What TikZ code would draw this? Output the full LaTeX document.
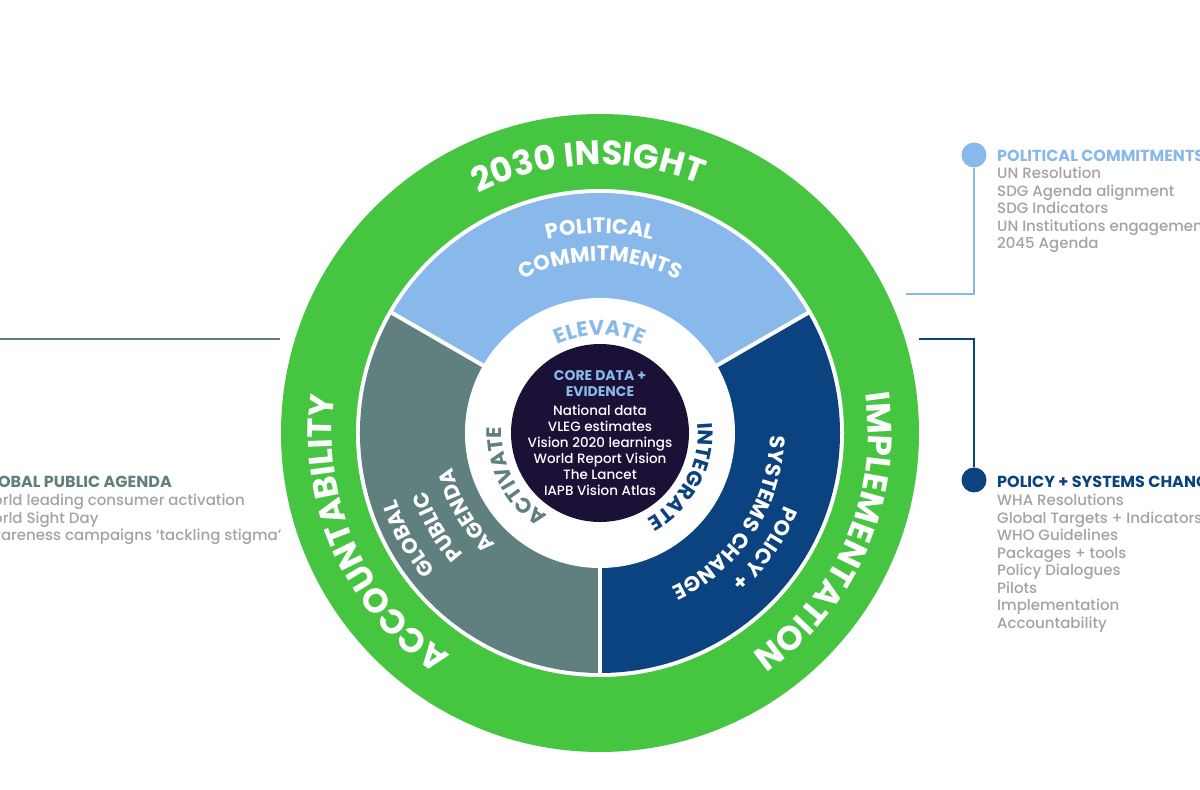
\documentclass[tikz,border=0pt]{standalone}
\usepackage{fontspec}
\setmainfont{Poppins}[UprightFont={* Medium},BoldFont={* Bold}]
\usetikzlibrary{decorations.text}
\definecolor{ringgreen}{HTML}{46C541}
\definecolor{commitblue}{HTML}{89B9EA}
\definecolor{agendagray}{HTML}{607F7F}
\definecolor{policyblue}{HTML}{0B4280}
\definecolor{coreblue}{HTML}{1B1136}
\definecolor{listgray}{HTML}{A3A3A3}
\begin{document}
\begin{tikzpicture}[x=1pt,y=1pt,
    ringtext/.style={decorate,decoration={text along path,text align=center,
        text={|\fontsize{34}{34}\selectfont\bfseries\color{white}|#1}}},
    segtext/.style={decorate,decoration={text along path,text align=center,
        text={|\fontsize{21}{21}\selectfont\bfseries\color{white}|#1}}},
    hubtext/.style 2 args={decorate,decoration={text along path,text align=center,
        text={|\fontsize{21}{21}\selectfont\bfseries\color{#1}|#2}}},
    listhead/.style={anchor=base west,inner sep=0,font=\bfseries\fontsize{16}{16}\selectfont},
    listitem/.style={anchor=base west,inner sep=0,text=listgray,font=\fontsize{15}{15}\selectfont},
    dot/.style={circle,inner sep=0,minimum size=25}]
    \useasboundingbox (0,0) rectangle (1200,790);
    \clip (0,0) rectangle (1200,790);
    \fill[white] (0,0) rectangle (1200,790);

    % the wheel
    \begin{scope}[shift={(600,357)}]
        \coordinate (hub) at (0,0);
        \fill[ringgreen] (hub) circle (319);
        \fill[white] (hub) circle (244);
        \fill[commitblue] (hub) -- (30:240) arc[start angle=30,end angle=150,radius=240] -- cycle;
        \fill[agendagray] (hub) -- (150:240) arc[start angle=150,end angle=270,radius=240] -- cycle;
        \fill[policyblue] (hub) -- (270:240) arc[start angle=270,end angle=390,radius=240] -- cycle;
        \foreach \a in {30,150,270}
            \draw[white,line width=4] (hub) -- (\a:242);
        \fill[white] (hub) circle (135);
        \node[circle,fill=coreblue,minimum size=178,inner sep=0] (core) at (hub) {};
        \node[align=center,text=white,font=\fontsize{13.5}{16}\selectfont] (coretext) at (hub)
            {{\bfseries\fontsize{14}{14.5}\selectfont\color{commitblue}CORE DATA +}\\
             {\bfseries\fontsize{14}{14.5}\selectfont\color{commitblue}EVIDENCE}\\[3pt]
             National data\\VLEG estimates\\Vision 2020 learnings\\World Report Vision\\The Lancet\\IAPB Vision Atlas};

        % outer ring
        \path[ringtext={2030 INSIGHT}] (172.5:268) arc[start angle=172.5,end angle=12.5,radius=268];
        \path[ringtext={ACCOUNTABILITY}] (294:268) arc[start angle=294,end angle=114,radius=268];
        \path[ringtext={IMPLEMENTATION}] (66.5:268) arc[start angle=66.5,end angle=-113.5,radius=268];

        % segments
        \path[segtext={POLITICAL}] (170:200) arc[start angle=170,end angle=10,radius=200];
        \path[segtext={COMMITMENTS}] (170:172) arc[start angle=170,end angle=10,radius=172];
        \path[segtext={GLOBAL}] (269:214) arc[start angle=269,end angle=149,radius=214];
        \path[segtext={PUBLIC}] (270:183) arc[start angle=270,end angle=150,radius=183];
        \path[segtext={AGENDA}] (270:152) arc[start angle=270,end angle=150,radius=152];
        \path[segtext={POLICY +}] (25:198) arc[start angle=25,end angle=-95,radius=198];
        \path[segtext={SYSTEMS CHANGE}] (47:170) arc[start angle=47,end angle=-113,radius=170];

        % inner ring
        \path[hubtext={commitblue}{ELEVATE}] (160:98) arc[start angle=160,end angle=20,radius=98];
        \path[hubtext={agendagray}{ACTIVATE}] (277:98) arc[start angle=277,end angle=137,radius=98];
        \path[hubtext={policyblue}{INTEGRATE}] (42:98) arc[start angle=42,end angle=-98,radius=98];
    \end{scope}

    % political commitments
    \node[dot,fill=commitblue] (pcdot) at (974,635) {};
    \coordinate (pcend) at (906,496);
    \draw[commitblue,line width=1.5] (pcdot) |- (pcend);
    \node[listhead,text=commitblue] (pchead) at (997,628) {POLITICAL COMMITMENTS};
    \foreach \item [count=\i] in {UN Resolution,SDG Agenda alignment,SDG Indicators,
        UN Institutions engagement,2045 Agenda}
        \node[listitem] (pc\i) at (997,{628.5-17.5*\i}) {\item};

    % policy + systems change
    \node[dot,fill=policyblue] (psdot) at (974,310) {};
    \coordinate (psend) at (919,451);
    \draw[policyblue,line width=1.5] (psdot) |- (psend);
    \node[listhead,text=policyblue] (pshead) at (997,302) {POLICY + SYSTEMS CHANGE};
    \foreach \item [count=\i] in {WHA Resolutions,Global Targets + Indicators,WHO Guidelines,
        Packages + tools,Policy Dialogues,Pilots,Implementation,Accountability}
        \node[listitem] (ps\i) at (997,{301.5-17.5*\i}) {\item};

    % global public agenda
    \coordinate (gpdot) at (-45,310);
    \coordinate (gpend) at (280,451);
    \draw[agendagray,line width=2] (gpdot) |- (gpend);
    \node[listhead,text=agendagray] (gphead) at (-22,302) {GLOBAL PUBLIC AGENDA};
    \foreach \item [count=\i] in {World leading consumer activation,World Sight Day,
        Awareness campaigns ‘tackling stigma’}
        \node[listitem] (gp\i) at (-22,{301.5-17.5*\i}) {\item};
\end{tikzpicture}
\end{document}
